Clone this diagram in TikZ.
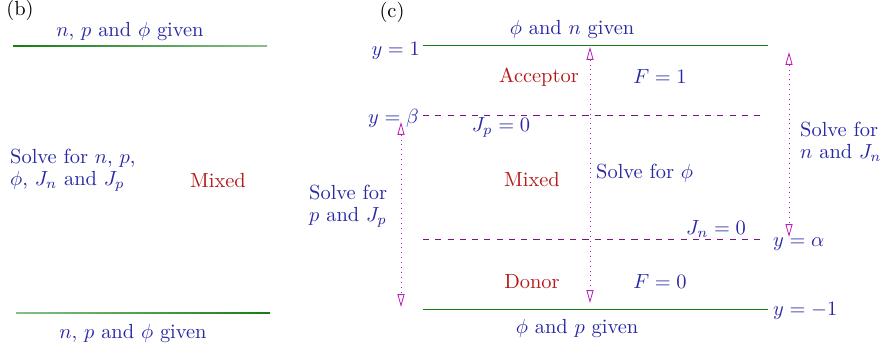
\documentclass[tikz,border=0pt]{standalone}
\usepackage{amsmath, amssymb}
\usepackage{xcolor}
\usepackage{tikz}
\usetikzlibrary{arrows.meta, positioning}

\definecolor{txtblue}{RGB}{40,40,165}
\definecolor{regred}{RGB}{180,25,25}
\definecolor{bndgreen}{RGB}{20,125,20}
\definecolor{cutviolet}{RGB}{125,15,135}
\definecolor{solvmag}{RGB}{185,30,185}

\begin{document}
\begin{tikzpicture}[
    x=0.0172cm, y=-0.0172cm,
    lbl/.style={text=txtblue},
    multi/.style={text=txtblue, align=left, anchor=west, font=\fontsize{10}{11}\selectfont},
    region/.style={text=regred},
    bnd/.style={bndgreen, line width=0.4pt},
    cut/.style={cutviolet, dashed, line width=0.4pt},
    solve/.style={{Triangle[open,length=2.2mm,width=1.2mm]}-{Triangle[open,length=2.2mm,width=1.2mm]}, solvmag, dotted, line width=0.4pt},
]
\useasboundingbox (0,0) rectangle (882,348);

\node (tagB) at (20,10) {(b)};
\shade[left color=bndgreen, right color=bndgreen!50] (13,45.5) rectangle (267,46.5);
\shade[left color=bndgreen!50, right color=bndgreen] (16,312.5) rectangle (270,313.5);
\node[lbl] (bTop) at (130,31) {$n$, $p$ and $\phi$ given};
\node[lbl] (bBot) at (133,333) {$n$, $p$ and $\phi$ given};
\node[multi] (bSolve) at (3,170) {Solve for $n$, $p$,\\ $\phi$, $J_n$ and $J_p$};
\node[region] (bMixed) at (218,181) {Mixed};

\node (tagC) at (392,12) {(c)};
\coordinate (oneL) at (423,45);
\coordinate (oneR) at (768,45);
\coordinate (betaL) at (423,115);
\coordinate (betaR) at (766,115);
\coordinate (alphaL) at (423,239);
\coordinate (alphaR) at (766,239);
\coordinate (mOneL) at (423,309);
\coordinate (mOneR) at (768,309);

\draw[bnd] (oneL) -- (oneR);
\draw[cut] (betaL) -- (betaR);
\draw[cut] (alphaL) -- (alphaR);
\draw[bnd] (mOneL) -- (mOneR);

\node[lbl, anchor=base east] (yOne) at (427,55) {$y=1$};
\node[lbl, anchor=base east] (yBeta) at (426,123) {$y=\beta$};
\node[lbl, anchor=base west] (yAlpha) at (766,246) {$y=\alpha$};
\node[lbl, anchor=base west] (yMOne) at (766,315) {$y=-1$};

\node[lbl] (topGiven) at (572,29) {$\phi$ and $n$ given};
\node[lbl] (botGiven) at (577,328) {$\phi$ and $p$ given};
\node[lbl] (jp) at (501,127) {$J_p=0$};
\node[lbl] (jn) at (716,229) {$J_n=0$};
\node[region] (acc) at (539,77) {Acceptor};
\node[lbl] (fOne) at (660,77) {$F=1$};
\node[region] (cMixed) at (532,180) {Mixed};
\node[region] (donor) at (532,282) {Donor};
\node[lbl] (fZero) at (660,282) {$F=0$};
\node[lbl, anchor=west] (solvePhi) at (589,173) {Solve for $\phi$};
\node[multi] (solveN) at (793,142) {Solve for\\ $n$ and $J_n$};
\node[multi] (solveP) at (302,206) {Solve for\\ $p$ and $J_p$};

\coordinate (midT) at (590,47);
\coordinate (midB) at (590,303);
\coordinate (leftT) at (401,122);
\coordinate (leftB) at (401,307);
\coordinate (rightT) at (789,52);
\coordinate (rightB) at (789,237);

\draw[solve] (midT) -- (midB);
\draw[solve] (leftT) -- (leftB);
\draw[solve] (rightT) -- (rightB);

\end{tikzpicture}
\end{document}
